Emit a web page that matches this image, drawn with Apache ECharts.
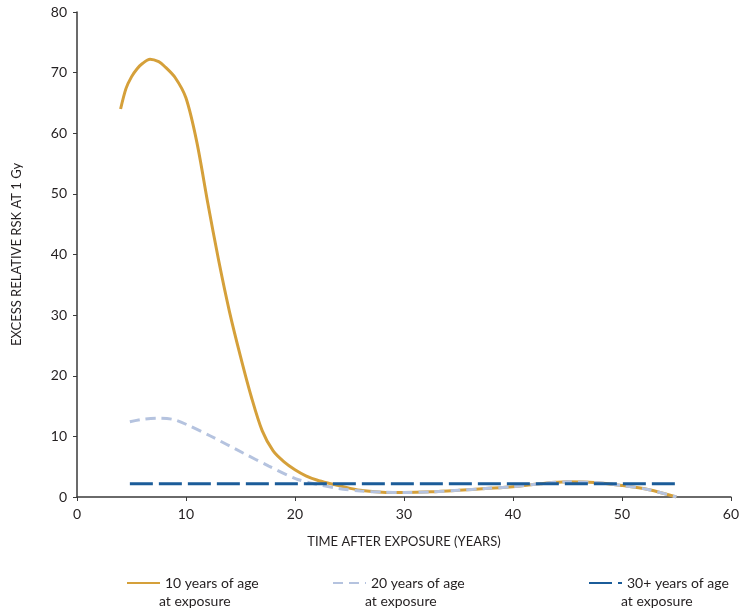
<!DOCTYPE html>
<html>
<head>
<meta charset="utf-8">
<script src="https://cdn.jsdelivr.net/npm/echarts@6/dist/echarts.min.js"></script>
<style>html,body{margin:0;padding:0;background:#fff}#c{width:742px;height:612px}</style>
</head>
<body>
<div id="c"></div>
<script>
// Data
const age10X = [4, 4.5, 5, 5.5, 6, 6.7, 7.5, 8, 9, 10, 11, 12, 13, 14, 15, 16, 17, 18, 19, 20, 21, 22, 23, 24, 26, 28, 30, 32.5, 35, 37.5, 40, 42.5, 45, 47.5, 50, 52.5, 55];
const age10Y = [64, 67.4, 69.3, 70.6, 71.5, 72.2, 71.8, 71.1, 69.2, 65.8, 58.5, 48.5, 39, 30.5, 23.2, 16.5, 10.9, 7.6, 5.8, 4.5, 3.5, 2.8, 2.3, 1.9, 1.1, 0.8, 0.75, 0.85, 1.1, 1.4, 1.7, 2.2, 2.5, 2.4, 1.9, 1.2, 0];

const age20X = [4.85, 6, 7.5, 8.8, 10, 12.2, 15.2, 17.6, 20.1, 22, 24, 26, 28, 30, 32.5, 35, 37.5, 40, 42.5, 45, 47.5, 50, 52.5, 55];
const age20Y = [12.4, 12.8, 13.0, 12.8, 12.0, 10.1, 7.3, 5.1, 3.0, 2.1, 1.4, 1.0, 0.8, 0.75, 0.85, 1.1, 1.4, 1.7, 2.2, 2.5, 2.4, 1.9, 1.2, 0];

const age30X = [4.85, 55.1];
const age30Y = [2.2, 2.2];

const seriesNames = ['10 years of age', '20 years of age', '30+ years of age'];
const secondLine = 'at exposure';
const xTicks = {min: 0, max: 60, interval: 10};
const yTicks = {min: 0, max: 80, interval: 10};

const FONT = 'Lato';
const TXT = '#231f20';
const AX = '#3a3a3a';

function pairs(xs, ys) { return xs.map((x, i) => [x, ys[i]]); }

const chart = echarts.init(document.getElementById('c'), null, {renderer: 'canvas'});

const legendLefts = [121, 327, 583];
const legends = seriesNames.map((n, i) => ({
  data: [n],
  left: legendLefts[i],
  top: 571,
  itemWidth: 33,
  itemHeight: 14,
  selectedMode: false,
  itemStyle: {opacity: 0},
  textStyle: {fontFamily: FONT, fontSize: 14, color: TXT}
}));

chart.setOption({
  animation: false,
  backgroundColor: '#fff',
  grid: {left: 77, right: 9, top: 12, bottom: 115, containLabel: false},
  legend: legends,
  xAxis: {
    type: 'value',
    min: xTicks.min, max: xTicks.max, interval: xTicks.interval,
    name: 'TIME AFTER EXPOSURE (YEARS)',
    nameLocation: 'middle',
    nameGap: 38,
    nameTextStyle: {fontFamily: FONT, fontSize: 13, color: TXT},
    axisLine: {lineStyle: {color: AX, width: 1.5}},
    axisTick: {show: true, length: 4, lineStyle: {color: AX}},
    axisLabel: {fontFamily: FONT, fontSize: 14, color: TXT, margin: 10},
    splitLine: {show: false}
  },
  yAxis: {
    type: 'value',
    min: yTicks.min, max: yTicks.max, interval: yTicks.interval,
    name: 'EXCESS RELATIVE RSK AT 1 Gy',
    nameLocation: 'middle',
    nameGap: 54,
    nameTextStyle: {fontFamily: FONT, fontSize: 13, color: TXT},
    axisLine: {show: true, lineStyle: {color: AX, width: 1.5}},
    axisTick: {show: true, length: 4, lineStyle: {color: AX}},
    axisLabel: {fontFamily: FONT, fontSize: 14, color: TXT, margin: 10},
    splitLine: {show: false}
  },
  graphic: legendLefts.map((l, i) => ({
    type: 'text',
    left: l + 33 + 5,
    top: 594,
    style: {text: secondLine, font: '14px ' + FONT, fill: TXT}
  })),
  series: [
    {
      name: seriesNames[0], type: 'line', smooth: 0.3, showSymbol: false, symbol: 'none',
      data: pairs(age10X, age10Y), z: 1,
      lineStyle: {color: '#D5A03A', width: 3},
      itemStyle: {color: '#D5A03A'}
    },
    {
      name: seriesNames[1], type: 'line', smooth: 0.3, showSymbol: false, symbol: 'none',
      data: pairs(age20X, age20Y), z: 2,
      lineStyle: {color: '#B5C3DF', width: 3, type: [10, 6]},
      itemStyle: {color: '#B5C3DF'}
    },
    {
      name: seriesNames[2], type: 'line', showSymbol: false, symbol: 'none',
      data: pairs(age30X, age30Y), z: 3,
      lineStyle: {color: '#1B5C99', width: 3, type: [23, 6]},
      itemStyle: {color: '#1B5C99'}
    }
  ]
});
</script>
</body>
</html>
